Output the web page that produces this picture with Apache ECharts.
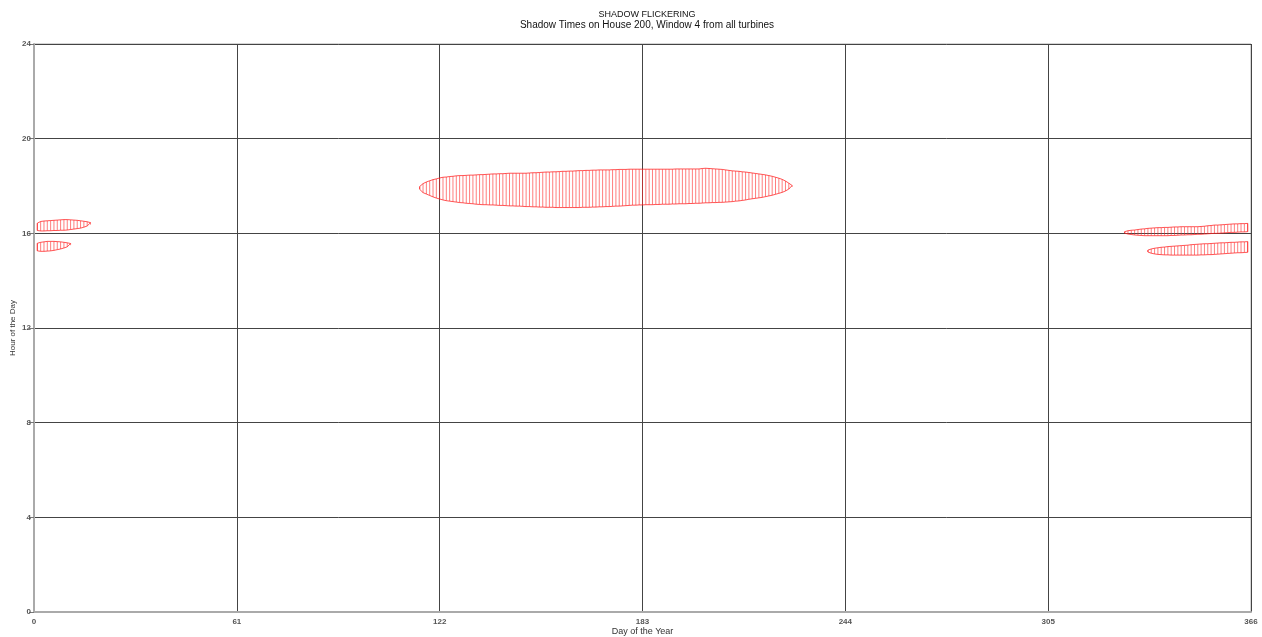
<!DOCTYPE html>
<html>
<head>
<meta charset="utf-8">
<script src="https://cdn.jsdelivr.net/npm/echarts@6/dist/echarts.min.js"></script>
<style>
html,body{margin:0;padding:0;background:#fff;}
#chart{width:1262px;height:637px;}
</style>
</head>
<body>
<div id="chart"></div>
<script>
// ---- Data (hours of the day, per day of the year) ----
var xTicks = [0, 61, 122, 183, 244, 305, 366];
var yTicks = [0, 4, 8, 12, 16, 20, 24];

// Summer shadow period: days 116..228
var summerStartDay = 116;
var summerEndHour = [
  17.98,18.10,18.17,18.22,18.27,18.30,18.34,18.37,18.38,18.40,
  18.41,18.43,18.44,18.44,18.45,18.46,18.46,18.47,18.48,18.48,
  18.49,18.50,18.51,18.51,18.52,18.52,18.53,18.54,18.54,18.54,
  18.54,18.54,18.54,18.55,18.56,18.56,18.57,18.58,18.59,18.59,
  18.60,18.60,18.61,18.62,18.62,18.63,18.63,18.64,18.65,18.65,
  18.66,18.66,18.67,18.67,18.68,18.68,18.68,18.68,18.69,18.69,
  18.70,18.70,18.70,18.71,18.71,18.71,18.71,18.71,18.71,18.71,
  18.71,18.71,18.71,18.71,18.71,18.71,18.71,18.72,18.72,18.72,
  18.72,18.72,18.72,18.72,18.72,18.74,18.75,18.74,18.73,18.72,
  18.71,18.70,18.68,18.66,18.64,18.63,18.62,18.60,18.59,18.57,
  18.55,18.53,18.51,18.49,18.47,18.44,18.41,18.37,18.33,18.28,
  18.21,18.12,18.02
];
var summerStartHour = [
  17.86,17.72,17.66,17.60,17.54,17.49,17.45,17.41,17.38,17.36,
  17.34,17.32,17.30,17.29,17.27,17.26,17.25,17.23,17.22,17.21,
  17.21,17.20,17.20,17.19,17.18,17.18,17.17,17.16,17.16,17.15,
  17.15,17.14,17.13,17.13,17.12,17.12,17.11,17.11,17.10,17.10,
  17.10,17.09,17.09,17.09,17.09,17.09,17.09,17.09,17.09,17.10,
  17.10,17.10,17.11,17.11,17.12,17.12,17.13,17.13,17.14,17.15,
  17.15,17.16,17.17,17.18,17.19,17.19,17.20,17.20,17.21,17.21,
  17.21,17.22,17.22,17.23,17.23,17.23,17.24,17.24,17.25,17.25,
  17.25,17.26,17.26,17.27,17.27,17.28,17.29,17.29,17.30,17.30,
  17.31,17.31,17.32,17.33,17.34,17.36,17.37,17.39,17.41,17.44,
  17.46,17.48,17.50,17.52,17.55,17.58,17.61,17.65,17.69,17.73,
  17.79,17.87,17.96
];

// January, upper band: days 1..17
var janUpperStartDay = 1;
var janUpperEndHour = [16.43,16.50,16.52,16.53,16.54,16.55,16.56,16.57,16.58,16.58,16.57,16.56,16.55,16.53,16.51,16.49,16.45];
var janUpperStartHour = [16.12,16.10,16.10,16.11,16.11,16.12,16.12,16.13,16.13,16.14,16.16,16.18,16.20,16.22,16.26,16.31,16.37];

// January, lower band: days 1..11
var janLowerStartDay = 1;
var janLowerEndHour = [15.58,15.62,15.64,15.66,15.66,15.66,15.65,15.64,15.62,15.60,15.57];
var janLowerStartHour = [15.26,15.24,15.24,15.25,15.26,15.28,15.31,15.34,15.38,15.43,15.50];

// December, upper band: days 328..365
var decUpperStartDay = 328;
var decUpperEndHour = [
  16.07,16.11,16.13,16.14,16.16,16.18,16.19,16.21,16.22,16.23,
  16.24,16.24,16.25,16.25,16.26,16.27,16.27,16.28,16.28,16.28,
  16.28,16.28,16.28,16.29,16.30,16.32,16.33,16.35,16.35,16.36,
  16.37,16.38,16.39,16.40,16.40,16.41,16.41,16.42
];
var decUpperStartHour = [
  16.01,15.97,15.95,15.93,15.92,15.91,15.90,15.90,15.90,15.90,
  15.90,15.90,15.90,15.90,15.91,15.91,15.92,15.93,15.93,15.94,
  15.94,15.95,15.96,15.96,15.97,15.98,15.99,16.00,16.00,16.01,
  16.02,16.03,16.04,16.04,16.05,16.06,16.06,16.07
];

// December, lower band: days 335..365
var decLowerStartDay = 335;
var decLowerEndHour = [
  15.29,15.34,15.37,15.39,15.41,15.42,15.44,15.45,15.46,15.47,
  15.48,15.49,15.50,15.52,15.53,15.54,15.55,15.56,15.56,15.57,
  15.58,15.59,15.60,15.60,15.61,15.62,15.62,15.63,15.64,15.64,
  15.65
];
var decLowerStartHour = [
  15.21,15.16,15.13,15.11,15.10,15.09,15.09,15.08,15.08,15.08,
  15.08,15.08,15.08,15.08,15.08,15.08,15.09,15.09,15.10,15.10,
  15.11,15.12,15.13,15.14,15.15,15.16,15.17,15.18,15.18,15.19,
  15.20
];

// ---- Build series ----
var bands = [
  [summerStartDay, summerStartHour, summerEndHour],
  [janUpperStartDay, janUpperStartHour, janUpperEndHour],
  [janLowerStartDay, janLowerStartHour, janLowerEndHour],
  [decUpperStartDay, decUpperStartHour, decUpperEndHour],
  [decLowerStartDay, decLowerStartHour, decLowerEndHour]
];

var series = [];
var lineColor = 'rgba(255,40,40,0.6)';
var outlineColor = 'rgba(255,30,30,0.75)';

bands.forEach(function (b) {
  var d0 = b[0], lo = b[1], hi = b[2];
  var data = [];
  for (var i = 0; i < lo.length; i++) data.push([d0 + i, lo[i], hi[i]]);
  series.push({
    type: 'custom',
    silent: true,
    renderItem: function (params, api) {
      var p1 = api.coord([api.value(0), api.value(1)]);
      var p2 = api.coord([api.value(0), api.value(2)]);
      return {
        type: 'line',
        shape: { x1: p1[0], y1: p1[1], x2: p2[0], y2: p2[1] },
        style: { stroke: lineColor, lineWidth: 1 }
      };
    },
    encode: { x: 0, y: [1, 2] },
    data: data,
    z: 3
  });
  // outline polygon
  var outline = [];
  for (var j = 0; j < hi.length; j++) outline.push([d0 + j, hi[j]]);
  for (var k = lo.length - 1; k >= 0; k--) outline.push([d0 + k, lo[k]]);
  outline.push([d0, hi[0]]);
  series.push({
    type: 'line',
    data: outline,
    showSymbol: false,
    silent: true,
    smooth: false,
    lineStyle: { color: outlineColor, width: 1 },
    z: 4
  });
});

var chart = echarts.init(document.getElementById('chart'), null, { renderer: 'canvas' });
chart.setOption({
  animation: false,
  backgroundColor: '#ffffff',
  title: {
    text: 'SHADOW FLICKERING',
    subtext: 'Shadow Times on House 200, Window 4 from all turbines',
    left: 642,
    textAlign: 'center',
    top: 5,
    itemGap: 1,
    textStyle: { fontFamily: 'Liberation Sans, Arial', fontSize: 9, fontWeight: 'normal', color: '#111' },
    subtextStyle: { fontFamily: 'Liberation Sans, Arial', fontSize: 10, color: '#111' }
  },
  grid: { left: 34, right: 11, top: 44, bottom: 25, containLabel: false, outerBoundsMode: 'none', show: true, borderColor: '#aaaaaa', borderWidth: 1 },
  xAxis: {
    type: 'value',
    min: xTicks[0], max: xTicks[xTicks.length - 1], interval: 61,
    name: 'Day of the Year',
    nameLocation: 'middle',
    nameGap: 15,
    nameMoveOverlap: false,
    nameTextStyle: { fontFamily: 'Liberation Sans, Arial', fontSize: 9, color: '#333' },
    axisLine: { show: true, lineStyle: { color: '#aaaaaa', width: 2 } },
    axisTick: { show: false },
    axisLabel: { fontFamily: 'Liberation Sans, Arial', fontSize: 8, fontWeight: 'bold', color: '#555', margin: 6 },
    splitLine: { show: true, lineStyle: { color: '#444444', width: 1 } }
  },
  yAxis: {
    type: 'value',
    min: yTicks[0], max: yTicks[yTicks.length - 1], interval: 4,
    name: 'Hour of the Day',
    nameLocation: 'middle',
    nameGap: 17,
    nameMoveOverlap: false,
    nameRotate: 90,
    nameTextStyle: { fontFamily: 'Liberation Sans, Arial', fontSize: 8, color: '#333' },
    axisLine: { show: true, lineStyle: { color: '#aaaaaa', width: 2 } },
    axisTick: { show: true, inside: false, length: 5, lineStyle: { color: '#777' } },
    axisLabel: { fontFamily: 'Liberation Sans, Arial', fontSize: 8, fontWeight: 'bold', color: '#555', margin: 3 },
    splitLine: { show: true, lineStyle: { color: '#444444', width: 1 } }
  },
  series: series
});
</script>
</body>
</html>
